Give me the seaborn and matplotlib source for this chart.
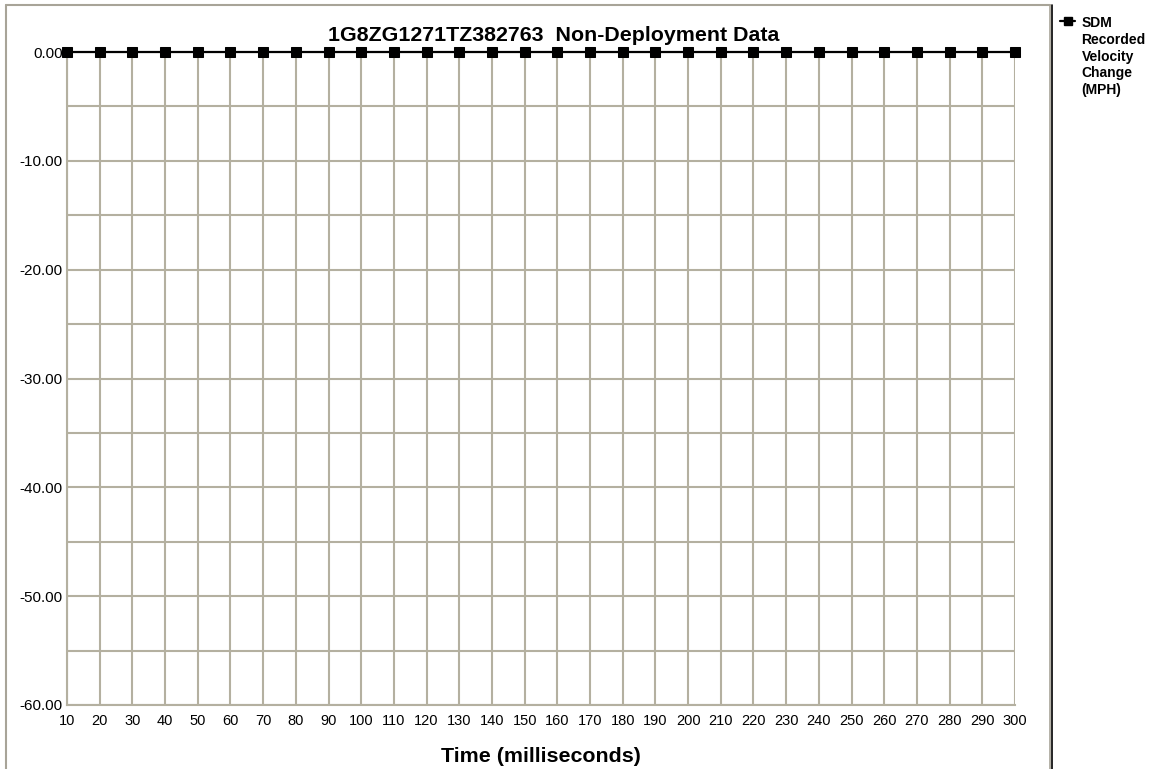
import matplotlib
matplotlib.use("Agg")
import matplotlib.pyplot as plt
from matplotlib.lines import Line2D
from matplotlib.ticker import MultipleLocator, FormatStrFormatter
import pandas as pd
import seaborn as sns

# 数据
time_ms = [10, 20, 30, 40, 50, 60, 70, 80, 90, 100, 110, 120, 130, 140, 150,
           160, 170, 180, 190, 200, 210, 220, 230, 240, 250, 260, 270, 280, 290, 300]
velocity_change = [0.0] * 30
series_name = "SDM\nRecorded\nVelocity\nChange\n(MPH)"
chart_title = "1G8ZG1271TZ382763  Non-Deployment Data"

df = pd.DataFrame({"time": time_ms, "dv": velocity_change})

sns.set_style("white")
plt.rcParams['font.family'] = ['Liberation Sans', 'DejaVu Sans']
plt.rcParams['text.color'] = 'black'
plt.rcParams['axes.labelcolor'] = 'black'

grid_color = "#b4b0a0"

fig = plt.figure(figsize=(11.51, 7.69), dpi=100)
ax = fig.add_axes([67 / 1151, 1 - 705 / 769, (1015 - 67) / 1151, (705 - 52) / 769])

sns.lineplot(data=df, x="time", y="dv", ax=ax, color="black", linewidth=1.6,
             marker="s", markersize=7, markeredgecolor="black", clip_on=False,
             zorder=5)

ax.set_xlim(10, 300)
ax.set_ylim(-60, 0)
ax.xaxis.set_major_locator(MultipleLocator(10))
ax.yaxis.set_major_locator(MultipleLocator(10))
ax.yaxis.set_minor_locator(MultipleLocator(5))
ax.yaxis.set_major_formatter(FormatStrFormatter("%.2f"))
ax.grid(True, which="both", axis="both", color=grid_color, linewidth=1.5)
ax.tick_params(axis="both", which="both", length=0, colors="black")
ax.tick_params(axis="x", labelsize=10.5, pad=6.5)
ax.tick_params(axis="y", labelsize=11, pad=3)

for side in ["top", "right"]:
    ax.spines[side].set_visible(False)
for side in ["left", "bottom"]:
    ax.spines[side].set_color(grid_color)
    ax.spines[side].set_linewidth(1.5)

ax.set_xlabel("Time (milliseconds)", fontsize=15.4, fontweight="bold", labelpad=14)
ax.set_ylabel("")
ax.set_title(chart_title, fontsize=15.4, fontweight="bold", pad=8, x=0.513)

# 外框
fig.add_artist(Line2D([6 / 1151, 6 / 1151], [0, 1 - 5 / 769], color="#a8a498", linewidth=1.5))
fig.add_artist(Line2D([6 / 1151, 1050 / 1151], [1 - 5 / 769, 1 - 5 / 769], color="#a8a498", linewidth=1.5))
fig.add_artist(Line2D([1050 / 1151, 1050 / 1151], [0, 1 - 5 / 769], color="#a8a498", linewidth=1.2))
fig.add_artist(Line2D([1052 / 1151, 1052 / 1151], [0, 1 - 5 / 769], color="black", linewidth=1.2))

# 图例 (标记与第一行对齐)
handle = Line2D([], [], color="black", linewidth=1.6, marker="s", markersize=6)
leg = fig.legend([handle], [series_name], loc="upper left",
                 bbox_to_anchor=(1060 / 1151, 1 - 16 / 769), frameon=False,
                 handlelength=1.1, handleheight=1.0, handletextpad=0.45,
                 borderaxespad=0, borderpad=0,
                 prop={"size": 10, "weight": "bold"})
for t in leg.get_texts():
    t.set_linespacing(1.25)
for col in leg._legend_handle_box.get_children():
    for item in col.get_children():
        item.align = "top"

plt.savefig("out.png", dpi=100)
plt.close()
